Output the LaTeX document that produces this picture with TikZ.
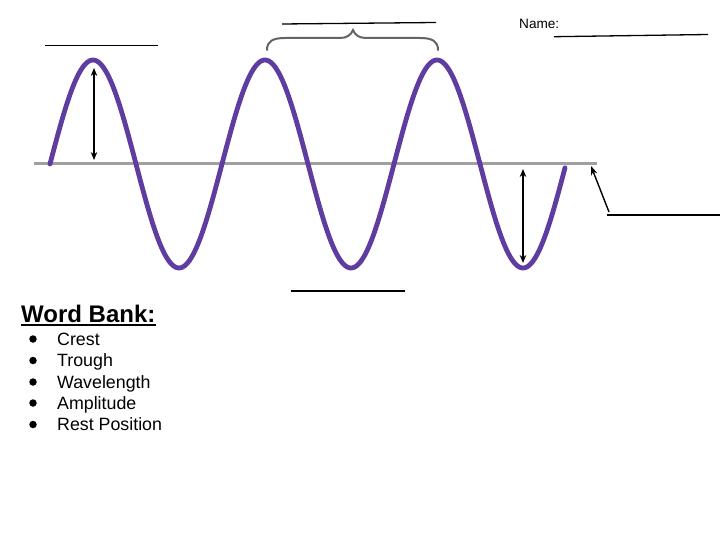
\documentclass[tikz,border=0pt]{standalone}
\usepackage{fontspec}
\setmainfont{Liberation Sans}
\usetikzlibrary{arrows.meta}
\definecolor{wavepurple}{RGB}{94,60,160}
\definecolor{axisgray}{RGB}{160,160,160}
\definecolor{bracegray}{RGB}{100,100,100}
\begin{document}
\begin{tikzpicture}[x=1pt,y=-1pt,
  blank/.style={draw=black,line width=1.3pt},
  amparrow/.style={black,line width=1.4pt,{Stealth[length=8pt,width=6.5pt]}-{Stealth[length=8pt,width=6.5pt]}},
  lbl/.style={anchor=base west,inner sep=0pt,font=\fontsize{17.8}{21}\selectfont},
  bul/.style={circle,fill=black,inner sep=0pt,minimum size=7.5pt}]
\useasboundingbox[fill=white] (0,0) rectangle (720,540);
% rest position axis
\coordinate (axL) at (34,164);
\coordinate (axR) at (597,164);
\draw[axisgray,line width=3pt] (axL) -- (axR);
% wave
\draw[wavepurple,line width=4.8pt,line cap=round,line join=round]
  plot[domain=50:565,samples=300,smooth] (\x,{164-104*sin(2.0930233*(\x-50))});
% amplitude arrows
\coordinate (a1t) at (94,68);
\coordinate (a1b) at (94,160);
\draw[amparrow] (a1t) -- (a1b);
\coordinate (a2t) at (523,169);
\coordinate (a2b) at (523,263);
\draw[amparrow] (a2t) -- (a2b);
% brace
\coordinate (brL) at (267,50);
\coordinate (brM) at (353,30);
\coordinate (brR) at (438,50);
\draw[bracegray,line width=2pt,line cap=round]
  (brL) .. controls (267,41) and (273,38) .. (285,38) -- (340,38)
  .. controls (347,38) and (351,35) .. (brM)
  .. controls (355,35) and (359,38) .. (366,38) -- (420,38)
  .. controls (432,38) and (438,41) .. (brR);
% blanks
\coordinate (b1a) at (45,45.5);  \coordinate (b1b) at (158,45.5);
\draw[blank] (b1a) -- (b1b);
\coordinate (b2a) at (282,24);   \coordinate (b2b) at (436,22.5);
\draw[blank] (b2a) -- (b2b);
\coordinate (b3a) at (291,291);  \coordinate (b3b) at (405,291);
\draw[blank] (b3a) -- (b3b);
\coordinate (b4a) at (607,215);  \coordinate (b4b) at (720,215);
\draw[blank] (b4a) -- (b4b);
\coordinate (b5a) at (554,36.7); \coordinate (b5b) at (708,34.5);
\draw[blank] (b5a) -- (b5b);
% rest position pointer
\coordinate (rpTail) at (609,212);
\coordinate (rpTip) at (591,166);
\draw[black,line width=1.4pt,-{Stealth[length=9pt,width=6.5pt]}] (rpTail) -- (rpTip);
% name
\node[anchor=base west,inner sep=0pt,font=\fontsize{13.6}{16}\selectfont] (name) at (519,29) {Name:};
% word bank
\node[anchor=base west,inner sep=0pt,font=\fontsize{24}{28}\selectfont\bfseries] (wb) at (21,322.5) {Word Bank:};
\draw[line width=1.8pt] ([yshift=-2.6pt]wb.base west) -- ([yshift=-2.6pt]wb.base east);
\node[lbl] (w1) at (57,345) {Crest};
\node[lbl] (w2) at (57,366.5) {Trough};
\node[lbl] (w3) at (57,388) {Wavelength};
\node[lbl] (w4) at (57,409) {Amplitude};
\node[lbl] (w5) at (57,430.5) {Rest Position};
\node[bul] (d1) at (33,339) {};
\node[bul] (d2) at (33,360.5) {};
\node[bul] (d3) at (33,382) {};
\node[bul] (d4) at (33,403) {};
\node[bul] (d5) at (33,424.5) {};
\end{tikzpicture}
\end{document}
